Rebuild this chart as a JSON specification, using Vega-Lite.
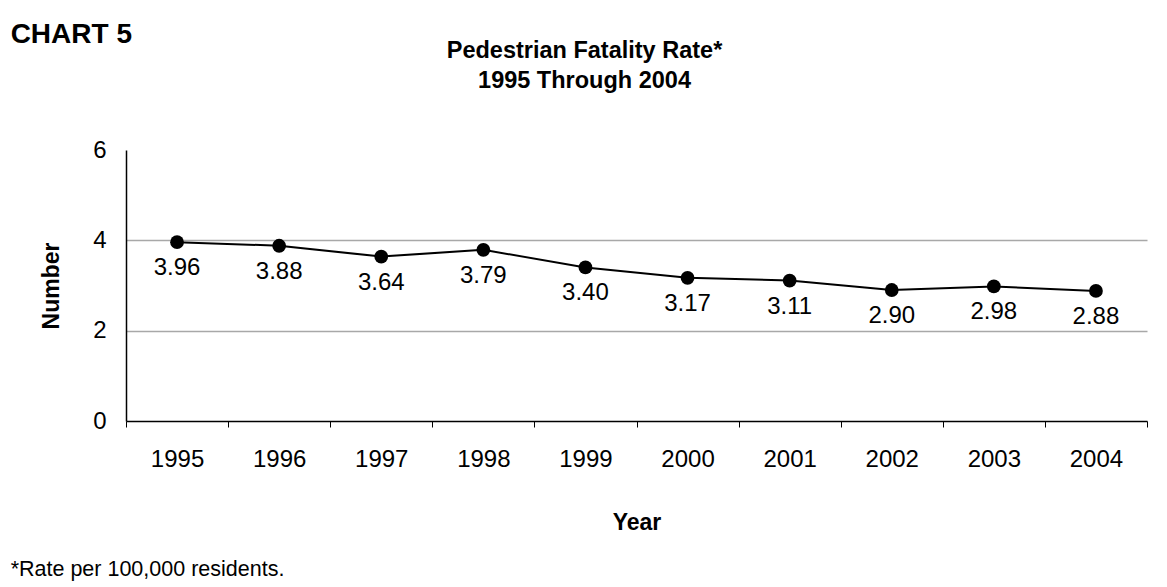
{
  "$schema": "https://vega.github.io/schema/vega-lite/v6.json",
  "background": "white",
  "padding": {"left": 10, "top": 20, "right": 0, "bottom": 4},
  "config": {
    "font": "Liberation Sans",
    "view": {"stroke": null},
    "concat": {"spacing": 0}
  },
  "title": {
    "text": "*Rate per 100,000 residents.",
    "orient": "bottom",
    "anchor": "start",
    "frame": "bounds",
    "fontSize": 21.5,
    "fontWeight": "normal",
    "color": "black",
    "offset": 25
  },
  "vconcat": [
    {
      "title": {
        "text": "CHART 5",
        "anchor": "start",
        "frame": "bounds",
        "fontSize": 28,
        "fontWeight": "bold",
        "color": "black",
        "dx": -30,
        "offset": -10
      },
      "vconcat": [
        {
          "width": 1021,
          "height": 271,
          "title": {
            "text": ["Pedestrian Fatality Rate*", "1995 Through 2004"],
            "anchor": "middle",
            "fontSize": 23.5,
            "fontWeight": "bold",
            "color": "black",
            "lineHeight": 30,
            "dx": -52,
            "offset": 46
          },
          "data": {
            "values": [
              {"year": "1995", "rate": 3.96},
              {"year": "1996", "rate": 3.88},
              {"year": "1997", "rate": 3.64},
              {"year": "1998", "rate": 3.79},
              {"year": "1999", "rate": 3.40},
              {"year": "2000", "rate": 3.17},
              {"year": "2001", "rate": 3.11},
              {"year": "2002", "rate": 2.90},
              {"year": "2003", "rate": 2.98},
              {"year": "2004", "rate": 2.88}
            ]
          },
          "encoding": {
            "x": {
              "field": "year",
              "type": "ordinal",
              "scale": {"paddingInner": 0, "paddingOuter": 0},
              "axis": {
                "title": "Year",
                "titleFontSize": 23,
                "titleFontWeight": "bold",
                "titleColor": "black",
                "titlePadding": 40,
                "labelAngle": 0,
                "labelFontSize": 24,
                "labelColor": "black",
                "labelPadding": 20,
                "tickBand": "extent",
                "tickSize": 6,
                "tickColor": "black",
                "domainColor": "black",
                "domainWidth": 1.5,
                "grid": false
              }
            },
            "y": {
              "field": "rate",
              "type": "quantitative",
              "scale": {"domain": [0, 6]},
              "axis": {
                "title": "Number",
                "titleFontSize": 23,
                "titleFontWeight": "bold",
                "titleColor": "black",
                "titlePadding": 29,
                "values": [0, 2, 4, 6],
                "labelFontSize": 24,
                "labelColor": "black",
                "labelPadding": 20,
                "ticks": false,
                "domainColor": "black",
                "domainWidth": 1.5,
                "grid": true,
                "gridColor": "#a8a8a8",
                "gridWidth": 1.5,
                "gridOpacity": {"condition": {"test": "datum.value === 6 || datum.value === 0", "value": 0}, "value": 1}
              }
            }
          },
          "layer": [
            {"mark": {"type": "line", "color": "black", "strokeWidth": 2}},
            {"mark": {"type": "point", "filled": true, "color": "black", "size": 190, "opacity": 1}},
            {"mark": {"type": "text", "fontSize": 24, "color": "black", "dy": 26, "baseline": "middle"},
             "encoding": {"text": {"field": "rate", "type": "quantitative", "format": ".2f"}}}
          ]
        }
      ]
    }
  ]
}
